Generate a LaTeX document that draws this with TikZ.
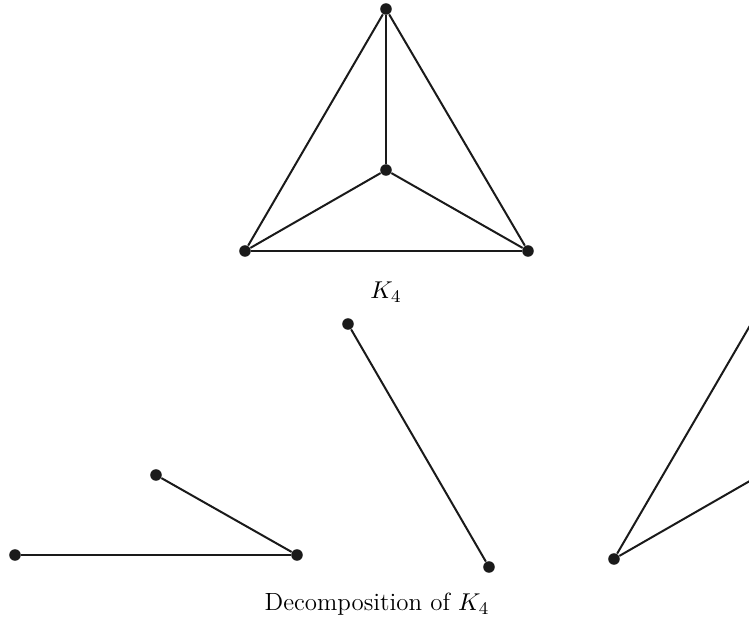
\documentclass[tikz,border=0pt]{standalone}
\usetikzlibrary{positioning}
\definecolor{ink}{HTML}{1a1a1a}
\def\dotR{2.6pt}

\begin{document}
\begin{tikzpicture}[
    x=0.45pt, y=-0.45pt,
    every node/.style={font=\fontsize{11.2}{13.5}\selectfont},
    edge/.style={draw=ink, line width=0.9pt},
    vtx/.style={circle, fill=ink, inner sep=0pt, minimum size=2*\dotR},
    ]

% frame of the picture (the right piece runs off the edge)
\useasboundingbox (0,0) rectangle (749,624);
\clip (0,0) rectangle (749,624);

% ====================================================================
% K4
% ====================================================================
\node[vtx] (top) at (386,9) {};
\node[vtx] (mid) at (386,170) {};
\node[vtx] (bl)  at (245,251) {};
\node[vtx] (br)  at (528,251) {};

\draw[edge] (top) -- (mid);
\draw[edge] (top) -- (bl);
\draw[edge] (top) -- (br);
\draw[edge] (mid) -- (bl);
\draw[edge] (mid) -- (br);
\draw[edge] (bl) -- (br);

\node (lblK) at (386,292) {$K_4$};

% ====================================================================
% Decomposition into three paths
% ====================================================================
% path 1
\node[vtx] (pA) at (15,555) {};
\node[vtx] (pB) at (297,555) {};
\node[vtx] (pC) at (156,475) {};
\draw[edge] (pA) -- (pB);
\draw[edge] (pC) -- (pB);

% path 2
\node[vtx] (qA) at (348,324) {};
\node[vtx] (qB) at (489,567) {};
\draw[edge] (qA) -- (qB);

% path 3 (cut at the right edge)
\node[vtx] (rA) at (614,559) {};
\node[vtx] (rB) at (755,317) {};
\node[vtx] (rC) at (755,478) {};
\draw[edge] (rA) -- (rB);
\draw[edge] (rA) -- (rC);

\node (lblD) at (377,604) {Decomposition of $K_4$};

\end{tikzpicture}
\end{document}
